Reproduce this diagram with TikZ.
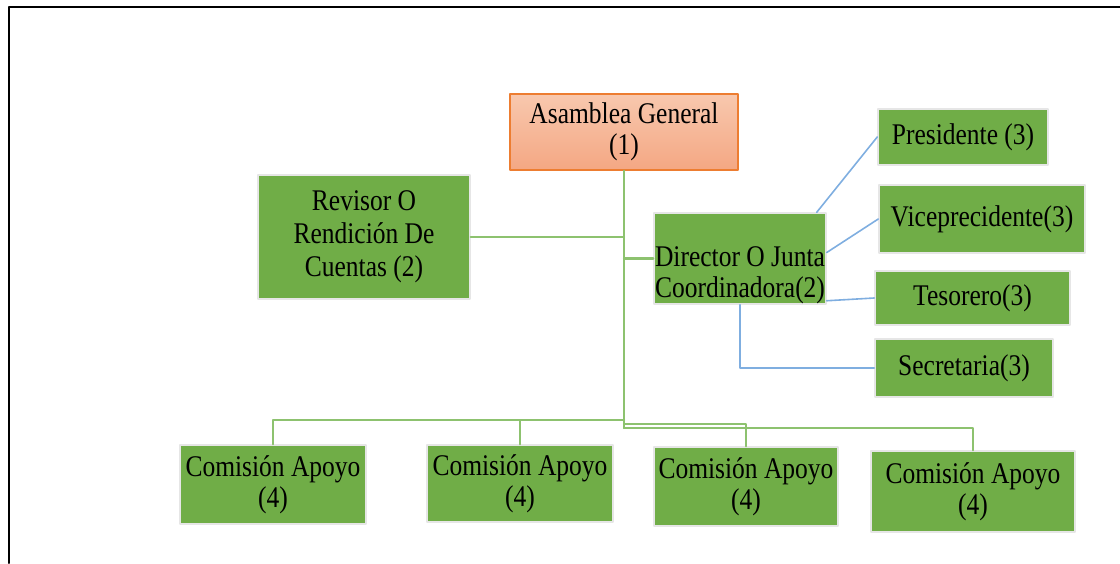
\documentclass[tikz,border=0pt]{standalone}
\usepackage{fontspec}
\setmainfont[FakeStretch=0.85]{Liberation Serif}
\usepackage{tikz}

\definecolor{boxgreen}{HTML}{70AD47}
\definecolor{boxedge}{HTML}{E6E6E6}
\definecolor{linegreen}{HTML}{8DC26F}
\definecolor{lineblue}{HTML}{7FAEE0}
\definecolor{headtop}{HTML}{F8C8AE}
\definecolor{headbottom}{HTML}{F4A783}
\definecolor{headedge}{HTML}{ED7D31}

\begin{document}
\begin{tikzpicture}[line cap=round,line join=round,x=1pt,y=-1pt,
  orgbox/.style={rectangle, fill=boxgreen, draw=boxedge, line width=1.5pt, inner sep=0pt,
    align=center, font=\fontsize{30}{31}\selectfont},
  headbox/.style={orgbox, top color=headtop, bottom color=headbottom, draw=headedge},
  greenline/.style={draw=linegreen, line width=2.2pt},
  blueline/.style={draw=lineblue, line width=1.6pt}]

\useasboundingbox (0,0) rectangle (1120,563);

% frame
\draw[line width=2pt] (9,563) -- (9,7) -- (1120,7);

% top of the chart
\node[headbox, minimum width=228, minimum height=76] (asamblea) at (624,132) {Asamblea General\\(1)};

% second level
\node[orgbox, minimum width=212, minimum height=124, font=\fontsize{30}{33}\selectfont] (revisor) at (364,237) {Revisor O\\Rendición De\\Cuentas (2)};
\node[orgbox, minimum width=172, minimum height=91] (director) at (740,258.5) {\rule{0pt}{53pt}Director O Junta\\Coordinadora(2)};

% officers
\node[orgbox, minimum width=170, minimum height=56] (presidente) at (963,137) {Presidente (3)};
\node[orgbox, minimum width=206, minimum height=68] (vice) at (982,219) {Viceprecidente(3)};
\node[orgbox, minimum width=195, minimum height=54] (tesorero) at (972.5,298) {Tesorero(3)};
\node[orgbox, minimum width=178, minimum height=58] (secretaria) at (964,368) {Secretaria(3)};

% support commissions
\node[orgbox, minimum width=186, minimum height=79] (comision1) at (273,484.5) {Comisión Apoyo\\(4)};
\node[orgbox, minimum width=186, minimum height=77] (comision2) at (520,483.5) {Comisión Apoyo\\(4)};
\node[orgbox, minimum width=184, minimum height=79] (comision3) at (746,486.5) {Comisión Apoyo\\(4)};
\node[orgbox, minimum width=204, minimum height=81] (comision4) at (973,491.5) {Comisión Apoyo\\(4)};

% bus points under the trunk
\coordinate (bus1) at (624,420);
\coordinate (bus2) at (624,424);
\coordinate (bus3) at (624,428);

% green connectors
\draw[greenline] (asamblea.south) -- (bus3);
\draw[greenline] (revisor.east) -- (revisor.east -| asamblea.south);
\draw[greenline] (director.west) -- (director.west -| asamblea.south);
\draw[greenline] (bus1) -| (comision1.north);
\draw[greenline] (bus1) -| (comision2.north);
\draw[greenline] (bus2) -| (comision3.north);
\draw[greenline] (bus3) -| (comision4.north);

% blue connectors
\draw[blueline] ([xshift=-10pt]director.north east) -- (presidente.west);
\draw[blueline] ([yshift=6pt]director.east) -- (vice.west);
\draw[blueline] ([yshift=4pt]director.south east) -- (tesorero.west);
\draw[blueline] (director.south) |- (secretaria.west);

\end{tikzpicture}
\end{document}
